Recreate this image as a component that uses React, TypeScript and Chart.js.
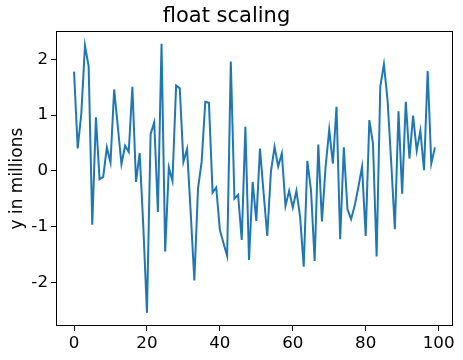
import React, { useEffect, useRef } from "react";
import { Chart, registerables } from "chart.js";

Chart.register(...registerables);

const title = "float scaling";
const yTitle = "y in millions";
const xTicks = [0, 20, 40, 60, 80, 100];
const yTicks = [-2, -1, 0, 1, 2];
const values = [
  1.78, 0.40, 1.03, 2.25, 1.88, -0.97, 0.96, -0.15, -0.11, 0.42,
  0.15, 1.46, 0.80, 0.12, 0.45, 0.34, 1.51, -0.20, 0.32, -1.00,
  -2.55, 0.66, 0.87, -0.74, 2.28, -1.45, 0.06, -0.18, 1.53, 1.48,
  0.16, 0.39, -0.75, -1.97, -0.32, 0.16, 1.24, 1.22, -0.39, -0.30,
  -1.06, -1.30, -1.53, 1.96, -0.50, -0.43, -1.24, 0.79, -1.60, -0.20,
  -0.90, 0.40, -0.40, -1.17, -0.02, 0.43, 0.08, 0.31, -0.63, -0.36,
  -0.66, -0.36, -0.82, -1.72, 0.18, -0.35, -1.62, 0.47, -0.91, 0.07,
  0.74, 0.13, 1.15, -1.23, 0.42, -0.69, -0.87, -0.62, -0.29, 0.07,
  -1.17, 0.91, 0.49, -1.54, 1.51, 1.91, 1.27, 0.15, -1.05, 1.07,
  -0.41, 1.24, 0.22, 0.99, 0.36, 0.72, 0.01, 1.79, 0.13, 0.42,
];

const FONT = "'DejaVu Sans', sans-serif";

const framePlugin = {
  id: "frame",
  afterDraw(chart: any) {
    const { ctx, chartArea } = chart;
    ctx.save();
    ctx.strokeStyle = "#000";
    ctx.lineWidth = 1;
    const l = Math.round(chartArea.left) + 0.5;
    const t = Math.round(chartArea.top) + 0.5;
    const r = Math.round(chartArea.right) - 0.5;
    const b = Math.round(chartArea.bottom) - 0.5;
    ctx.strokeRect(l, t, r - l, b - t);
    ctx.restore();
  },
};

export default function App() {
  const ref = useRef<HTMLCanvasElement>(null);
  useEffect(() => {
    if (!ref.current) return;
    const chart = new Chart(ref.current, {
      type: "line",
      data: {
        datasets: [
          {
            data: values.map((v, i) => ({ x: i, y: v })),
            borderColor: "#1f77b4",
            borderWidth: 2,
            pointRadius: 0,
            tension: 0,
            fill: false,
          },
        ],
      },
      options: {
        animation: false,
        responsive: false,
        devicePixelRatio: 1,
        layout: { padding: { left: 0, right: 10, top: 0, bottom: 0 } },
        plugins: {
          legend: { display: false },
          tooltip: { enabled: false },
          title: {
            display: true,
            text: title,
            color: "#000",
            font: { family: FONT, size: 21, weight: "normal" },
            padding: { top: 4, bottom: 2 },
          },
        },
        scales: {
          x: {
            type: "linear",
            min: -4.95,
            max: 103.95,
            afterBuildTicks: (s: any) => {
              s.ticks = xTicks.map((v) => ({ value: v }));
            },
            afterFit: (s: any) => {
              s.height = 34;
            },
            grid: { drawOnChartArea: false, drawTicks: true, tickLength: 5, color: "#000" },
            border: { display: false },
            ticks: {
              color: "#000",
              font: { family: FONT, size: 16.7 },
              padding: 3,
              maxRotation: 0,
              callback: (v: any) => String(v),
            },
          },
          y: {
            type: "linear",
            min: -2.786,
            max: 2.506,
            afterBuildTicks: (s: any) => {
              s.ticks = yTicks.map((v) => ({ value: v }));
            },
            afterFit: (s: any) => {
              s.width = 56;
            },
            grid: { drawOnChartArea: false, drawTicks: true, tickLength: 5, color: "#000" },
            border: { display: false },
            ticks: {
              color: "#000",
              font: { family: FONT, size: 16.7 },
              padding: 3,
              callback: (v: any) => String(v),
            },
            title: {
              display: true,
              text: yTitle,
              color: "#000",
              font: { family: FONT, size: 17 },
              padding: { top: 7, bottom: 0 },
            },
          },
        },
      },
      plugins: [framePlugin],
    });
    return () => chart.destroy();
  }, []);
  return (
    <div style={{ position: "absolute", left: 0, top: 0, width: 463, height: 360, background: "#fff" }}>
      <canvas ref={ref} width={463} height={360} style={{ width: 463, height: 360 }} />
    </div>
  );
}
